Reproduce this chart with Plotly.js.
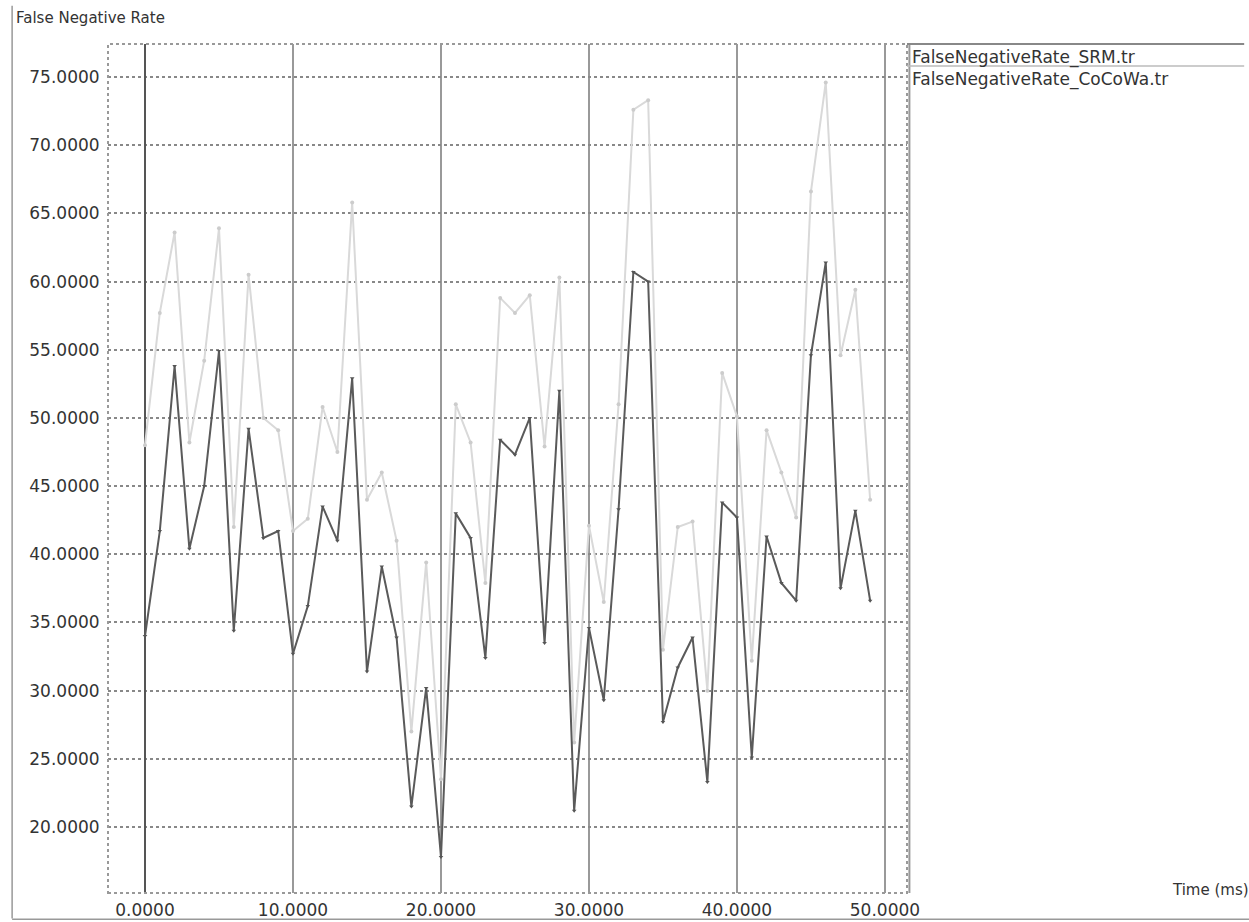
<!DOCTYPE html>
<html>
<head>
<meta charset="utf-8">
<script src="https://cdn.plot.ly/plotly-3.0.1.min.js"></script>
<style>body{margin:0;background:#fff}#chart{width:1249px;height:922px}</style>
</head>
<body>
<div id="chart"></div>
<script>
const timeMs = [0,1,2,3,4,5,6,7,8,9,10,11,12,13,14,15,16,17,18,19,20,21,22,23,24,25,26,27,28,29,30,31,32,33,34,35,36,37,38,39,40,41,42,43,44,45,46,47,48,49];
const srmValues = [34.0,41.7,53.8,40.4,45.0,54.9,34.4,49.2,41.2,41.7,32.7,36.2,43.5,41.0,52.9,31.4,39.1,33.9,21.5,30.2,17.8,43.0,41.2,32.4,48.4,47.3,50.0,33.5,52.0,21.2,34.6,29.3,43.3,60.7,60.0,27.7,31.7,33.9,23.3,43.8,42.7,25.1,41.3,37.9,36.6,54.6,61.4,37.5,43.2,36.6];
const cocowaValues = [48.0,57.7,63.6,48.2,54.2,63.9,42.0,60.5,50.0,49.1,41.7,42.6,50.8,47.5,65.8,44.0,46.0,41.0,27.0,39.4,23.5,51.0,48.2,37.9,58.8,57.7,59.0,47.9,60.3,26.2,42.1,36.5,51.0,72.6,73.3,33.0,42.0,42.4,30.0,53.3,50.1,32.2,49.1,46.0,42.7,66.6,74.6,54.6,59.4,44.0];
const seriesNames = ["FalseNegativeRate_SRM.tr","FalseNegativeRate_CoCoWa.tr"];
const xTicks = [0,10,20,30,40,50];
const yTicks = [20,25,30,35,40,45,50,55,60,65,70,75];

const font = {family: "DejaVu Sans, Verdana, sans-serif", color: "#333"};
const f = s => Object.assign({size: s}, font);

const traces = [
  {x: timeMs, y: cocowaValues, name: seriesNames[1], type: "scatter", mode: "lines+markers",
   line: {color: "#d9d9d9", width: 2}, marker: {color: "#cccccc", size: 4}, showlegend: false},
  {x: timeMs, y: srmValues, name: seriesNames[0], type: "scatter", mode: "lines+markers",
   line: {color: "#5a5a5a", width: 2}, marker: {color: "#555", size: 4, symbol: "triangle-down"}, showlegend: false}
];

const layout = {
  width: 1249, height: 922,
  margin: {l: 108, r: 342, t: 44, b: 29},
  paper_bgcolor: "#fff", plot_bgcolor: "#fff",
  font: f(17),
  xaxis: {range: [-2.5, 51.49], tickvals: xTicks, tickformat: ".4f",
          showgrid: true, gridcolor: "#999", griddash: "solid", gridwidth: 2,
          zeroline: true, zerolinecolor: "#555", zerolinewidth: 2,
          showline: false, ticks: "outside", ticklen: 2, tickcolor: "rgba(0,0,0,0)", tickfont: f(17)},
  yaxis: {range: [15.16, 77.42], tickvals: yTicks, tickformat: ".4f",
          showgrid: true, gridcolor: "#888", griddash: "dot", gridwidth: 2,
          zeroline: false, showline: false, ticks: "outside", ticklen: 4, tickcolor: "rgba(0,0,0,0)",
          tickfont: f(17)},
  shapes: [
    {type: "rect", xref: "paper", yref: "paper", x0: 0, x1: 1, y0: 0, y1: 1,
     line: {color: "#999", width: 2, dash: "dot"}},
    {type: "line", xref: "paper", yref: "paper", x0: 1.003, x1: 1.003, y0: 0, y1: 1.0,
     line: {color: "#999", width: 2}},
    {type: "line", xref: "paper", yref: "paper", x0: 1.0, x1: 1.422, y0: 1.0, y1: 1.0,
     line: {color: "#888", width: 2}},
    {type: "line", xref: "paper", yref: "paper", x0: 1.0, x1: 1.422, y0: 0.974, y1: 0.974,
     line: {color: "#bbb", width: 1.5}},
    {type: "line", xref: "paper", yref: "paper", x0: -0.12, x1: -0.12, y0: -0.03, y1: 1.045,
     line: {color: "#999", width: 1.5}},
    {type: "line", xref: "paper", yref: "paper", x0: -0.12, x1: 1.43, y0: -0.031, y1: -0.031,
     line: {color: "#999", width: 1.5}}
  ],
  annotations: [
    {text: "False Negative Rate", xref: "paper", yref: "paper", x: -0.118, y: 1.0, yshift: 26,
     xanchor: "left", yanchor: "middle", showarrow: false, font: f(15)},
    {text: "Time (ms)", xref: "paper", yref: "paper", x: 1.43, y: 0.0, yshift: 3,
     xanchor: "right", yanchor: "middle", showarrow: false, font: f(15)},
    {text: seriesNames[0], xref: "paper", yref: "paper", x: 1.004, y: 0.999,
     xanchor: "left", yanchor: "top", showarrow: false, font: f(17)},
    {text: seriesNames[1], xref: "paper", yref: "paper", x: 1.004, y: 0.973,
     xanchor: "left", yanchor: "top", showarrow: false, font: f(17)}
  ]
};

Plotly.newPlot("chart", traces, layout, {displayModeBar: false, staticPlot: true});
</script>
</body>
</html>
